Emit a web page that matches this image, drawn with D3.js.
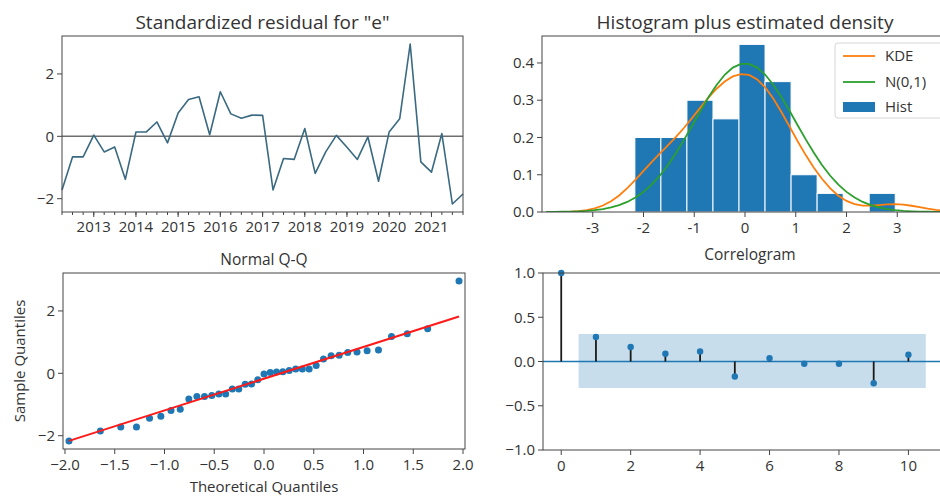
<!DOCTYPE html>
<html><head><meta charset="utf-8">
<script src="https://cdn.jsdelivr.net/npm/d3@7"></script>
<style>
body{margin:0;background:#fff}
svg{display:block}
text{font-family:"Open Sans","DejaVu Sans",sans-serif;fill:#333}
</style></head>
<body><svg id="c" width="940" height="497"></svg>
<script>
// ---------------- data ----------------
const dates = ["2012-04-01","2012-07-01","2012-10-01",
 "2013-01-01","2013-04-01","2013-07-01","2013-10-01",
 "2014-01-01","2014-04-01","2014-07-01","2014-10-01",
 "2015-01-01","2015-04-01","2015-07-01","2015-10-01",
 "2016-01-01","2016-04-01","2016-07-01","2016-10-01",
 "2017-01-01","2017-04-01","2017-07-01","2017-10-01",
 "2018-01-01","2018-04-01","2018-07-01","2018-10-01",
 "2019-01-01","2019-04-01","2019-07-01","2019-10-01",
 "2020-01-01","2020-04-01","2020-07-01","2020-10-01",
 "2021-01-01","2021-04-01","2021-07-01","2021-10-01"];
const residuals = [-1.72,-0.66,-0.66,0.04,-0.50,-0.34,-1.38,0.14,0.14,0.46,
 -0.21,0.75,1.18,1.27,0.05,1.43,0.72,0.58,0.68,0.67,
 -1.72,-0.71,-0.74,0.25,-1.19,-0.50,0.03,-0.35,-0.74,-0.02,
 -1.44,0.14,0.56,2.96,-0.82,-1.15,0.09,-2.17,-1.85];
const yearTicks = ["2013","2014","2015","2016","2017","2018","2019","2020","2021"];
const residYTicks = [-2,0,2];
const histXTicks = [-3,-2,-1,0,1,2,3];
const histYTicks = [0.0,0.1,0.2,0.3,0.4];
const legendLabels = ["KDE","N(0,1)","Hist"];
const qqXTicks = [-2.0,-1.5,-1.0,-0.5,0.0,0.5,1.0,1.5,2.0];
const qqYTicks = [-2,0,2];
const acfLags = [0,1,2,3,4,5,6,7,8,9,10];
const acfValues = [1.0,0.276,0.163,0.087,0.113,-0.17,0.038,-0.026,-0.026,-0.245,0.076];
const acfBandUpper = [0.31,0.31,0.31,0.31,0.31,0.31,0.31,0.31,0.31,0.31]; // lags 1..10
const acfBandLower = [-0.30,-0.30,-0.30,-0.30,-0.30,-0.30,-0.30,-0.30,-0.30,-0.30];
const acfYTicks = [-1.0,-0.5,0.0,0.5,1.0];
const acfXTicks = [0,2,4,6,8,10];

// ---------------- setup ----------------
const svg = d3.select("#c");
const C0 = "#1f77b4", C1 = "#ff7f0e", C2 = "#2ca02c";
const SPINE = "#444";
const fmtMinus = s => String(s).replace("-", "\u2212");

function frame(g, b){
  g.append("rect").attr("x",b.l).attr("y",b.t).attr("width",b.r-b.l).attr("height",b.b-b.t)
   .attr("fill","none").attr("stroke",SPINE).attr("stroke-width",1);
}
function yTicks(g, b, y, ticks, fmt){
  ticks.forEach(t=>{
    const yy = y(t);
    g.append("line").attr("x1",b.l-5).attr("x2",b.l).attr("y1",yy).attr("y2",yy).attr("stroke",SPINE);
    g.append("text").attr("x",b.l-8).attr("y",yy).attr("dy","0.35em").attr("text-anchor","end")
     .attr("font-size",15).text(fmt(t));
  });
}
function xTicks(g, b, x, ticks, fmt, ty){
  ticks.forEach(t=>{
    const xx = x(t);
    g.append("line").attr("x1",xx).attr("x2",xx).attr("y1",b.b).attr("y2",b.b+5).attr("stroke",SPINE);
    g.append("text").attr("x",xx).attr("y",ty).attr("text-anchor","middle")
     .attr("font-size",15).text(fmt(t));
  });
}

const parse = d3.timeParse("%Y-%m-%d");
const dts = dates.map(parse);
const ext = d3.extent(residuals);
const span = ext[1]-ext[0];
const yDom = [ext[0]-0.05*span, ext[1]+0.05*span];

// ---------------- panel A: standardized residual ----------------
{
  const b = {l:62, r:463, t:36, b:212};
  const g = svg.append("g");
  const x = d3.scaleTime().domain([dts[0], dts[dts.length-1]]).range([b.l,b.r]);
  const y = d3.scaleLinear().domain(yDom).range([b.b,b.t]);
  g.append("line").attr("x1",x(dts[0])).attr("x2",x(dts[dts.length-1]))
    .attr("y1",y(0)).attr("y2",y(0)).attr("stroke","#6e6e6e").attr("stroke-width",1.5);
  g.append("path").datum(residuals.map((v,i)=>[dts[i],v]))
    .attr("d", d3.line().x(d=>x(d[0])).y(d=>y(d[1])))
    .attr("fill","none").attr("stroke","#3a6a82").attr("stroke-width",1.6).attr("stroke-linejoin","round");
  // minor quarter ticks
  dts.forEach(d=>{
    g.append("line").attr("x1",x(d)).attr("x2",x(d)).attr("y1",b.b).attr("y2",b.b+3).attr("stroke",SPINE);
  });
  xTicks(g,b,x,yearTicks.map(s=>parse(s+"-01-01")),d=>d3.timeFormat("%Y")(d),232);
  yTicks(g,b,y,residYTicks,fmtMinus);
  frame(g,b);
  g.append("text").attr("x",(b.l+b.r)/2).attr("y",29).attr("text-anchor","middle")
   .attr("font-size",19).text('Standardized residual for "e"');
}

// ---------------- panel B: histogram ----------------
{
  const b = {l:542, r:948, t:36, b:212};
  const g = svg.append("g");
  const n = residuals.length;
  const nb = 10, w = span/nb;
  const thresholds = d3.range(1,nb).map(i=>ext[0]+i*w);
  const bins = d3.bin().domain(ext).thresholds(thresholds)(residuals);
  const dens = bins.map(bn=>bn.length/(n*w));
  const x = d3.scaleLinear().domain([-4,4]).range([b.l,b.r]);
  const y = d3.scaleLinear().domain([0, d3.max(dens)*1.05]).range([b.b,b.t]);
  const clipId="clipB";
  svg.append("clipPath").attr("id",clipId).append("rect").attr("x",b.l).attr("y",b.t).attr("width",b.r-b.l).attr("height",b.b-b.t);
  const pg = g.append("g").attr("clip-path",`url(#${clipId})`);
  bins.forEach((bn,i)=>{
    if(!dens[i]) return;
    pg.append("rect").attr("x",x(bn.x0)).attr("y",y(dens[i])).attr("width",x(bn.x1)-x(bn.x0))
      .attr("height",y(0)-y(dens[i])).attr("fill",C0).attr("stroke","#fff").attr("stroke-width",1);
  });
  // KDE (Scott's rule)
  const mean = d3.mean(residuals), sd = d3.deviation(residuals);
  const bw = sd*Math.pow(n,-1/5);
  const xs = d3.range(50).map(i=>-3.92+i*7.84/49);
  const kde = xs.map(v=>[v, d3.mean(residuals, r=>Math.exp(-0.5*((v-r)/bw)**2))/(bw*Math.sqrt(2*Math.PI))]);
  const nrm = xs.map(v=>[v, Math.exp(-0.5*v*v)/Math.sqrt(2*Math.PI)]);
  const ln = d3.line().x(d=>x(d[0])).y(d=>y(d[1]));
  pg.append("path").datum(kde).attr("d",ln).attr("fill","none").attr("stroke",C1).attr("stroke-width",1.8);
  pg.append("path").datum(nrm).attr("d",ln).attr("fill","none").attr("stroke",C2).attr("stroke-width",1.8);
  xTicks(g,b,x,histXTicks,d=>String(d),233);
  yTicks(g,b,y,histYTicks,d=>d.toFixed(1));
  frame(g,b);
  // legend
  const lg = g.append("g");
  lg.append("rect").attr("x",835).attr("y",43).attr("width",110).attr("height",75).attr("rx",3)
    .attr("fill","#fff").attr("fill-opacity",0.8).attr("stroke","#d6d6d6");
  const ly = [56,82,107];
  lg.append("line").attr("x1",843).attr("x2",875).attr("y1",ly[0]).attr("y2",ly[0]).attr("stroke",C1).attr("stroke-width",1.8);
  lg.append("line").attr("x1",843).attr("x2",875).attr("y1",ly[1]).attr("y2",ly[1]).attr("stroke",C2).attr("stroke-width",1.8);
  lg.append("rect").attr("x",843).attr("y",ly[2]-5).attr("width",32).attr("height",10).attr("fill",C0);
  legendLabels.forEach((s,i)=>lg.append("text").attr("x",885).attr("y",ly[i]).attr("dy","0.35em").attr("font-size",15).text(s));
  g.append("text").attr("x",745).attr("y",29).attr("text-anchor","middle")
   .attr("font-size",19).text("Histogram plus estimated density");
}

// ---------------- panel C: Q-Q ----------------
function normInv(p){
  const a=[-3.969683028665376e+01,2.209460984245205e+02,-2.759285104469687e+02,1.383577518672690e+02,-3.066479806614716e+01,2.506628277459239e+00];
  const bq=[-5.447609879822406e+01,1.615858368580409e+02,-1.556989798598866e+02,6.680131188771972e+01,-1.328068155288572e+01];
  const c=[-7.784894002430293e-03,-3.223964580411365e-01,-2.400758277161838e+00,-2.549732539343734e+00,4.374664141464968e+00,2.938163982698783e+00];
  const d=[7.784695709041462e-03,3.224671290700398e-01,2.445134137142996e+00,3.754408661907416e+00];
  const pl=0.02425, ph=1-pl; let q,r;
  if(p<pl){q=Math.sqrt(-2*Math.log(p));return (((((c[0]*q+c[1])*q+c[2])*q+c[3])*q+c[4])*q+c[5])/((((d[0]*q+d[1])*q+d[2])*q+d[3])*q+1);}
  if(p>ph){q=Math.sqrt(-2*Math.log(1-p));return -(((((c[0]*q+c[1])*q+c[2])*q+c[3])*q+c[4])*q+c[5])/((((d[0]*q+d[1])*q+d[2])*q+d[3])*q+1);}
  q=p-0.5;r=q*q;return (((((a[0]*r+a[1])*r+a[2])*r+a[3])*r+a[4])*r+a[5])*q/(((((bq[0]*r+bq[1])*r+bq[2])*r+bq[3])*r+bq[4])*r+1);
}
{
  const b = {l:63, r:465, t:273, b:449};
  const g = svg.append("g");
  const n = residuals.length;
  const sorted = residuals.slice().sort(d3.ascending);
  const theo = sorted.map((v,i)=>normInv((i+1)/(n+1)));
  const x = d3.scaleLinear().domain([-2.02,2.02]).range([b.l,b.r]);
  const y = d3.scaleLinear().domain(yDom).range([b.b,b.t]);
  const m = d3.deviation(residuals)*Math.sqrt((n-1)/n), mu = d3.mean(residuals);
  sorted.forEach((v,i)=>g.append("circle").attr("cx",x(theo[i])).attr("cy",y(v)).attr("r",3.5).attr("fill",C0));
  g.append("line").attr("x1",x(theo[0])).attr("x2",x(theo[n-1]))
   .attr("y1",y(mu+m*theo[0])).attr("y2",y(mu+m*theo[n-1])).attr("stroke","#ff1a1a").attr("stroke-width",2);
  xTicks(g,b,x,qqXTicks,d=>fmtMinus(d.toFixed(1)),470);
  yTicks(g,b,y,qqYTicks,fmtMinus);
  frame(g,b);
  g.append("text").attr("x",264).attr("y",265).attr("text-anchor","middle").attr("font-size",15.5).text("Normal Q-Q");
  g.append("text").attr("x",264).attr("y",492).attr("text-anchor","middle").attr("font-size",15).text("Theoretical Quantiles");
  g.append("text").attr("transform","translate(25,361) rotate(-90)").attr("text-anchor","middle").attr("font-size",15).text("Sample Quantiles");
}

// ---------------- panel D: correlogram ----------------
{
  const b = {l:543, r:944, t:273, b:450};
  const g = svg.append("g");
  const x = d3.scaleLinear().domain([-0.525,11.025]).range([b.l,b.r]);
  const y = d3.scaleLinear().domain([-1,1]).range([b.b,b.t]);
  const bandX = acfLags.slice(1).map((l,i,a)=> i===0 ? l-0.5 : (i===a.length-1 ? l+0.5 : l));
  const band = bandX.map((bx,i)=>[bx, acfBandLower[i], acfBandUpper[i]]);
  g.append("path").datum(band).attr("d", d3.area().x(d=>x(d[0])).y0(d=>y(d[1])).y1(d=>y(d[2])))
   .attr("fill",C0).attr("fill-opacity",0.25);
  g.append("line").attr("x1",b.l).attr("x2",b.r).attr("y1",y(0)).attr("y2",y(0)).attr("stroke",C0).attr("stroke-width",1.6);
  acfLags.forEach((l,i)=>{
    g.append("line").attr("x1",x(l)).attr("x2",x(l)).attr("y1",y(0)).attr("y2",y(acfValues[i])).attr("stroke","#1a1a1a").attr("stroke-width",1.8);
  });
  acfLags.forEach((l,i)=>g.append("circle").attr("cx",x(l)).attr("cy",y(acfValues[i])).attr("r",3.2).attr("fill",C0));
  xTicks(g,b,x,acfXTicks,d=>String(d),471);
  yTicks(g,b,y,acfYTicks,d=>fmtMinus(d.toFixed(1)));
  frame(g,b);
  g.append("text").attr("x",750).attr("y",260).attr("text-anchor","middle").attr("font-size",15.5).text("Correlogram");
}
</script></body></html>
